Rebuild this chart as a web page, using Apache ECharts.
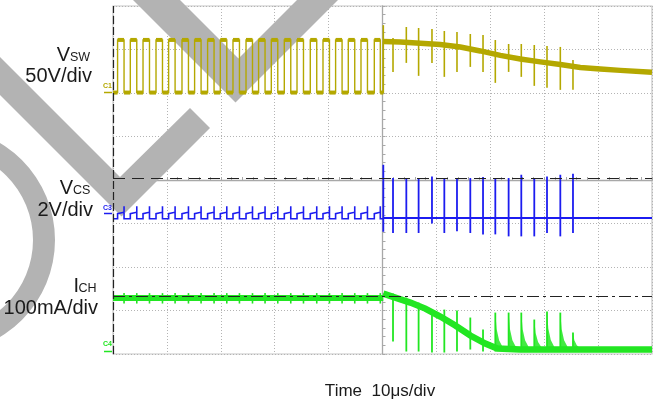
<!DOCTYPE html>
<html><head><meta charset="utf-8">
<script src="https://cdn.jsdelivr.net/npm/echarts@6/dist/echarts.min.js"></script>
<style>html,body{margin:0;padding:0;background:#fff}#c{width:655px;height:406px}</style>
</head><body><div id="c"></div>
<script>
// ---- data (time in µs, amplitude in screen divisions, 0 = centre line) ----
const vswRise = [-49.15,-46.79,-44.43,-42.02,-39.68,-37.20,-34.86,-32.45,-30.09,-27.74,-25.32,-22.99,-20.63,-18.22,-15.86,-13.40,-11.04,-8.70,-6.35,-3.99,-1.52];
const vswFall = [-47.95,-45.59,-43.23,-40.82,-38.48,-36.00,-33.66,-31.25,-28.89,-26.54,-24.12,-21.79,-19.43,-17.02,-14.66,-12.20,-9.84,-7.50,-5.15,-2.79,-0.41];
const vswLow = 2.01, vswHigh = 3.22;
const trigT = 0.15;
const vswPostT = [0.15,3.30,7.01,10.72,14.43,18.14,21.86,25.57,29.28,32.99,36.70,40.41,44.12,50];
const vswPostV = [3.185,3.174,3.144,3.116,3.059,2.967,2.864,2.783,2.715,2.657,2.588,2.554,2.520,2.477];
const spikeT = [1.95,4.42,6.70,9.18,11.47,13.82,16.29,18.65,20.93,23.40,25.75,28.16,30.52,32.99,35.34];
const vswSpikeTop = [3.266,3.517,3.494,3.472,3.426,3.403,3.357,3.334,3.219,3.127,3.127,3.104,3.082,3.059,2.760];
const vswSpikeBot = [2.485,2.692,2.394,2.692,2.371,2.485,2.600,2.485,2.233,2.485,2.371,2.164,2.118,2.072,2.072];
const vswTrigSpike = [3.56, 2.0];

const vcsLow = -0.89, vcsPlatStart = -0.775, vcsPlatEnd = -0.74, vcsPreSpike = -0.603;
const vcsBase = -0.873;
const vcsTrig = [0.35, -1.19];
const vcsSpikeTop = [0.045,0.045,0.045,0.081,0.045,0.045,0.045,0.07,0.045,0.045,0.121,0.045,0.081,0.121,0.143];
const vcsSpikeBot = [-1.218,-1.218,-1.218,-1.0,-1.218,-1.18,-1.218,-1.25,-1.25,-1.296,-1.296,-1.296,-1.218,-1.296,-1.218];

const ichPre = -2.71;
const ichPreSpike = [-2.60, -2.84];
const ichPostT = [0.15,2.37,5.16,7.94,10.72,13.51,16.29,19.07,21.30,25.57,50];
const ichPostV = [-2.611,-2.703,-2.818,-2.956,-3.139,-3.346,-3.576,-3.760,-3.874,-3.897,-3.897];
const ichSpikeTop = [-2.611,-2.703,-2.818,-2.979,-2.979,-3.002,-3.162,-3.438,-3.048,-3.048,-3.048,-3.208,-3.025,-3.048,-3.507];
const ichSpikeBot = [-3.713,-3.943,-3.943,-3.966,-3.966,-3.943,-3.897,-3.943,-3.943,-3.943,-3.943,-3.943,-3.943,-3.943,-3.943];

const cursorY = [0.052, -2.673];
const xRange = [-50, 50], yRange = [-4, 4];

// ---- build ----
const YEL = '#b4a800', BLU = '#1c1cf0', GRN = '#22e622';
const FONT = '"Liberation Sans", Arial, sans-serif';

const vswPre = [[xRange[0], vswLow]];
vswRise.forEach((r, i) => { vswPre.push([r, vswLow],[r, vswHigh],[vswFall[i], vswHigh],[vswFall[i], vswLow]); });
vswPre.push([trigT, vswLow],[trigT, vswPostV[0]]);
const vswThick = [];
vswRise.forEach((r, i) => {
  vswThick.push([r, vswHigh, vswFall[i], vswHigh]);
  const prevEnd = i === 0 ? xRange[0] : vswFall[i-1];
  vswThick.push([prevEnd, vswLow, r, vswLow]);
});
vswThick.push([vswFall[vswFall.length-1], vswLow, trigT, vswLow]);
const vswSpk = spikeT.map((t,i)=>[t, vswSpikeTop[i], t, vswSpikeBot[i]]);
vswSpk.push([trigT, vswTrigSpike[0], trigT, vswTrigSpike[1]]);

const vcsPre = [[xRange[0], vcsLow]];
vswRise.forEach((r, i) => { const f = vswFall[i];
  vcsPre.push([r, vcsLow],[r, vcsPlatStart],[f, vcsPlatEnd],[f, vcsPreSpike],[f, vcsLow]); });
vcsPre.push([trigT, vcsLow]);
const vcsPost = [[trigT, vcsBase],[xRange[1], vcsBase]];
const vcsSpk = spikeT.map((t,i)=>[t, vcsSpikeTop[i], t, vcsSpikeBot[i]]);
vcsSpk.push([trigT, vcsTrig[0], trigT, vcsTrig[1]]);

const ichPreLine = [[xRange[0], ichPre],[trigT, ichPre]];
const ichPreSpk = vswFall.map(f => [f, ichPreSpike[0], f, ichPreSpike[1]]);
const ichPost = ichPostT.map((t,i)=>[t, ichPostV[i]]);
const ichSpk = spikeT.map((t,i)=>[t, ichSpikeTop[i], t, ichSpikeBot[i]]);
const ichFins = spikeT.map((t,i)=>[t, ichSpikeTop[i], ichPostV[ichPostV.length-1]]).slice(8);

function segSeries(color, width, items) {
  return { type:'custom', silent:true, animation:false, data: items, encode:{x:[0,2], y:[1,3]},
    renderItem(params, api) {
      const a = api.coord([api.value(0), api.value(1)]);
      const b = api.coord([api.value(2), api.value(3)]);
      return { type:'line', shape:{x1:a[0], y1:a[1], x2:b[0], y2:b[1]}, style:{stroke:color, lineWidth:width, lineCap:'butt'} };
    } };
}
function lineSeries(color, width, data) {
  return { type:'line', data, symbol:'none', showSymbol:false, silent:true, animation:false,
    lineStyle:{color, width, join:'miter'} };
}

const chart = echarts.init(document.getElementById('c'), null, {renderer:'canvas'});
const axisCommon = {
  type:'value', interval:1,
  axisLine:{show:true, onZero:true, lineStyle:{color:'#a8a8a8', width:1.3}},
  axisTick:{show:true, inside:true, length:3, lineStyle:{color:'#a8a8a8'}},
  minorTick:{show:true, splitNumber:5, length:3, lineStyle:{color:'#a8a8a8'}},
  axisLabel:{show:false},
  splitLine:{show:true, lineStyle:{color:'#b4b4b4', type:[1,2], width:1}}
};
const option = {
  animation:false,
  backgroundColor:'#ffffff',
  grid:{left:113, right:3, top:6, bottom:52, show:true, borderColor:'#c6c6c6', borderWidth:1.2},
  xAxis: Object.assign({}, axisCommon, {min:xRange[0], max:xRange[1], interval:10}),
  yAxis: Object.assign({}, axisCommon, {min:yRange[0], max:yRange[1], interval:1}),
  graphic:{elements:[
    {type:'polygon', z:1, silent:true, shape:{points:[[133,0],[180,0],[238.5,58.5],[297,0],[338,0],[235.5,102.5]]}, style:{fill:'#b3b3b3'}},
    {type:'polygon', z:1, silent:true, shape:{points:[[0,57],[120,177],[190,108],[210,128],[121.5,216.5],[0,95]]}, style:{fill:'#b3b3b3'}},
    {type:'ring', z:1, silent:true, shape:{cx:-58, cy:240, r:113, r0:91}, style:{fill:'#b3b3b3'}},
    {type:'text', z:10, x:70, y:55.4, style:{text:'V', font:'20px '+FONT, fill:'#1a1a1a', align:'right', verticalAlign:'middle'}},
    {type:'text', z:10, x:70, y:58, style:{text:'SW', font:'12.5px '+FONT, fill:'#1a1a1a', align:'left', verticalAlign:'middle'}},
    {type:'text', z:10, x:92, y:76.4, style:{text:'50V/div', font:'20px '+FONT, fill:'#1a1a1a', align:'right', verticalAlign:'middle'}},
    {type:'text', z:10, x:73, y:188.4, style:{text:'V', font:'20px '+FONT, fill:'#1a1a1a', align:'right', verticalAlign:'middle'}},
    {type:'text', z:10, x:73, y:191, style:{text:'CS', font:'12.5px '+FONT, fill:'#1a1a1a', align:'left', verticalAlign:'middle'}},
    {type:'text', z:10, x:93, y:210.4, style:{text:'2V/div', font:'20px '+FONT, fill:'#1a1a1a', align:'right', verticalAlign:'middle'}},
    {type:'text', z:10, x:79, y:286.4, style:{text:'I', font:'20px '+FONT, fill:'#1a1a1a', align:'right', verticalAlign:'middle'}},
    {type:'text', z:10, x:78.5, y:289, style:{text:'CH', font:'12.5px '+FONT, fill:'#1a1a1a', align:'left', verticalAlign:'middle'}},
    {type:'text', z:10, x:98, y:308.4, style:{text:'100mA/div', font:'20px '+FONT, fill:'#1a1a1a', align:'right', verticalAlign:'middle'}},
    {type:'text', z:10, x:380, y:391.4, style:{text:'Time  10μs/div', font:'17px '+FONT, fill:'#1a1a1a', align:'center', verticalAlign:'middle'}},
    {type:'text', z:10, x:103, y:86, style:{text:'C1', font:'bold 7px '+FONT, fill:YEL, align:'left', verticalAlign:'middle'}},
    {type:'line', z:10, shape:{x1:104, y1:92.5, x2:112, y2:92.5}, style:{stroke:YEL, lineWidth:1.5}},
    {type:'text', z:10, x:103, y:208, style:{text:'C3', font:'bold 7px '+FONT, fill:BLU, align:'left', verticalAlign:'middle'}},
    {type:'line', z:10, shape:{x1:104, y1:213.5, x2:112, y2:213.5}, style:{stroke:BLU, lineWidth:1.5}},
    {type:'text', z:10, x:103, y:344.5, style:{text:'C4', font:'bold 7px '+FONT, fill:GRN, align:'left', verticalAlign:'middle'}},
    {type:'line', z:10, shape:{x1:104, y1:351.5, x2:112, y2:351.5}, style:{stroke:GRN, lineWidth:1.5}}
  ]},
  series:[
    { type:'line', data:[], silent:true, animation:false, symbol:'none',
      markLine:{ silent:true, symbol:'none', label:{show:false}, animation:false,
        data:[
          {xAxis:xRange[0], lineStyle:{color:'#222', type:[8,3], width:1.2}},
          {yAxis:cursorY[0], lineStyle:{color:'#222', type:[12,7], width:1.2}},
          {yAxis:cursorY[1], lineStyle:{color:'#222', type:[12,4,3,4], width:1.2}}
        ] } },
    lineSeries(GRN, 6, ichPreLine),
    segSeries(GRN, 1.6, ichPreSpk),
    lineSeries(GRN, 6.5, ichPost),
    segSeries(GRN, 1.8, ichSpk),
    { type:'custom', silent:true, animation:false, data: ichFins, encode:{x:[0], y:[1,2]},
      renderItem(params, api) {
        const t = api.value(0), top = api.value(1), base = api.value(2), d = base - top;
        const pts = [[t, top],[t+0.25, top+0.45*d],[t+0.7, top+0.75*d],[t+1.6, base],[t, base]].map(p => api.coord(p));
        return { type:'polygon', shape:{points:pts}, style:{fill:GRN, opacity:0.85} };
      } },
    lineSeries(BLU, 1.6, vcsPre),
    lineSeries(BLU, 2, vcsPost),
    segSeries(BLU, 1.8, vcsSpk),
    lineSeries(YEL, 1.4, vswPre),
    segSeries(YEL, 4, vswThick),
    lineSeries(YEL, 5.5, vswPostT.map((t,i)=>[t, vswPostV[i]])),
    segSeries(YEL, 1.6, vswSpk)
  ]
};
chart.setOption(option);
</script></body></html>
